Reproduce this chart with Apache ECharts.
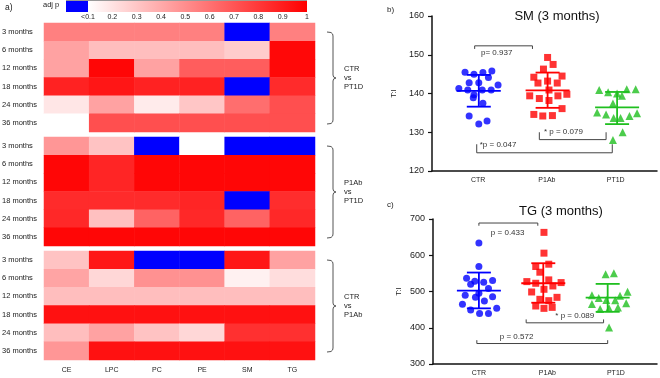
<!DOCTYPE html>
<html>
<head>
<meta charset="utf-8">
<script src="https://cdn.jsdelivr.net/npm/echarts@6/dist/echarts.min.js"></script>
<style>
  html, body { margin: 0; padding: 0; background: #fff; }
  #chart { width: 660px; height: 378px; }
</style>
</head>
<body>
<div id="chart"></div>
<script>
// heatmap of adjusted p values
const lipids = ['CE', 'LPC', 'PC', 'PE', 'SM', 'TG']
const months = ['3 months', '6 months', '12 months', '18 months', '24 months', '36 months']
const comparisons = [['CTR', 'vs', 'PT1D'], ['P1Ab', 'vs', 'PT1D'], ['CTR', 'vs', 'P1Ab']]

const ctrVsPt1d = [
  [0.55, 0.55, 0.55, 0.55, 0.05, 0.55],
  [0.43, 0.33, 0.33, 0.33, 0.28, 0.97],
  [0.43, 0.98, 0.43, 0.67, 0.67, 0.97],
  [0.88, 0.92, 0.88, 0.88, 0.05, 0.85],
  [0.19, 0.43, 0.17, 0.30, 0.61, 0.72],
  [0.10, 0.72, 0.72, 0.72, 0.72, 0.72]
]
const p1abVsPt1d = [
  [0.47, 0.31, 0.05, 0.10, 0.05, 0.05],
  [0.98, 0.87, 0.98, 0.98, 0.98, 0.98],
  [0.98, 0.87, 0.98, 0.98, 0.98, 0.98],
  [0.85, 0.85, 0.85, 0.87, 0.05, 0.84],
  [0.86, 0.32, 0.65, 0.86, 0.65, 0.86],
  [0.98, 0.98, 0.98, 0.98, 0.98, 0.98]
]
const ctrVsP1ab = [
  [0.31, 0.92, 0.05, 0.05, 0.92, 0.43],
  [0.42, 0.24, 0.49, 0.49, 0.15, 0.22],
  [0.33, 0.33, 0.33, 0.33, 0.33, 0.33],
  [0.94, 0.94, 0.94, 0.94, 0.94, 0.94],
  [0.33, 0.43, 0.31, 0.24, 0.83, 0.83],
  [0.47, 0.94, 0.94, 0.94, 0.94, 0.94]
]
const scaleTicks = ['<0.1', '0.2', '0.3', '0.4', '0.5', '0.6', '0.7', '0.8', '0.9', '1']

// dot plots: [x in group units, value]
const groups = ['CTR', 'P1Ab', 'PT1D']

const smCtr = [[0.81, 145.5], [0.94, 145.0], [1.07, 145.4], [1.20, 145.8], [1.15, 144.1], [0.87, 142.8],
  [1.01, 142.8], [1.29, 142.2], [0.72, 141.3], [0.85, 140.9], [1.06, 140.9], [1.19, 140.9],
  [0.94, 139.7], [0.93, 138.9], [1.07, 137.5], [0.87, 134.2], [1.13, 132.9], [1.01, 132.1]]
const smP1ab = [[2.01, 149.3], [2.09, 147.5], [1.95, 146.3], [1.81, 144.2], [2.01, 143.2], [2.22, 144.5],
  [1.87, 142.7], [2.15, 142.7], [1.75, 139.4], [1.89, 138.7], [2.03, 140.9], [2.03, 138.2],
  [2.16, 139.4], [2.29, 139.8], [2.22, 136.1], [1.81, 134.6], [1.94, 134.2], [2.08, 134.3]]
const smPt1d = [[2.76, 140.9], [2.89, 140.3], [3.02, 140.0], [3.09, 139.4], [3.16, 141.1], [3.29, 141.1],
  [2.96, 137.4], [2.73, 135.1], [2.86, 134.6], [2.97, 133.7], [3.07, 133.7], [3.20, 134.2],
  [3.31, 134.9], [3.10, 130.0], [2.96, 128.0]]
const smGroupX = [1.01, 2.01, 3.02]
const smMean = [140.7, 140.8, 136.4]
const smSdLow = [136.6, 136.3, 132.1]
const smSdHigh = [144.8, 145.4, 140.4]
// [x1, x2, y, tick end y, label x, label y]
const smBrackets = [[0.95, 1.79, 152.3, 151.5, 1.27, 150.6], [1.89, 2.86, 128.1, 130.0, 2.24, 130.0],
  [0.98, 2.95, 124.7, 126.9, 1.29, 126.7]]
const smPvalues = ['p= 0.937', '* p = 0.079', '*p = 0.047']

const tgCtr = [[1.00, 633.5], [1.00, 569.0], [0.82, 536.6], [0.94, 528.3], [0.88, 520.0], [1.07, 525.5],
  [1.20, 530.1], [1.14, 508.0], [1.00, 495.0], [0.80, 489.5], [0.95, 484.0], [1.20, 485.8],
  [1.08, 473.8], [0.76, 464.5], [0.88, 448.8], [1.26, 453.5], [1.01, 439.6], [1.14, 439.6]]
const tgP1ab = [[1.95, 663.1], [1.95, 605.8], [1.83, 568.9], [2.02, 575.3], [1.89, 553.2], [1.70, 527.3],
  [1.83, 522.7], [2.02, 532.0], [2.08, 515.3], [2.20, 524.6], [1.77, 498.7], [1.95, 506.1],
  [1.89, 478.4], [2.02, 474.7], [2.14, 483.9], [1.83, 460.0], [1.95, 453.5], [2.07, 456.2]]
const tgPt1d = [[2.85, 547.6], [2.97, 550.4], [2.65, 489.5], [2.75, 482.1], [2.86, 476.5], [2.99, 475.6],
  [3.06, 488.6], [3.17, 499.6], [2.65, 465.5], [2.77, 451.6], [2.90, 453.5], [3.03, 456.2],
  [3.15, 467.3], [2.90, 400.8]]
const tgGroupX = [1.00, 1.94, 2.88]
const tgMean = [502.4, 522.7, 483.0]
const tgSdLow = [453.5, 469.0, 444.0]
const tgSdHigh = [552.3, 578.0, 521.0]
const tgBrackets = [[1.00, 1.86, 688.9, 681.4, 1.42, 661.2], [1.69, 2.82, 413.6, 423.0, 2.40, 432.1],
  [0.97, 2.88, 356.5, 365.7, 1.55, 374.8]]
const tgPvalues = ['p = 0.433', '* p = 0.089', 'p = 0.572']

const font = "'Liberation Sans', Arial, sans-serif"
const groupColors = ['#0000ff', '#ff0000', '#1fbf1f']
const groupSymbols = ['circle', 'rect', 'triangle']
const heatTops = [23, 137, 251]

const chart = echarts.init(document.getElementById('chart'))

function toCells(matrix) {
  const out = []
  matrix.forEach((row, r) => row.forEach((v, c) => out.push([c, r, v])))
  return out
}

// white at 0.1, red at 1 (stops every 0.1 from 0)
const ramp = []
for (let i = 0; i <= 10; i++) {
  const t = i === 0 ? 0 : (i - 1) / 9
  const gb = Math.round(255 * (1 - t))
  ramp.push(`rgb(255,${gb},${gb})`)
}

function statsRows(xs, mean, lo, hi) {
  return xs.map((x, i) => [x, mean[i], lo[i], hi[i], i])
}

function renderErrorBar(params, api) {
  const x = api.value(0)
  const mid = api.coord([x, api.value(1)])
  const lo = api.coord([x, api.value(2)])
  const hi = api.coord([x, api.value(3)])
  const style = { stroke: groupColors[api.value(4)], lineWidth: 1.8 }
  const line = (x1, y1, x2, y2) => ({ type: 'line', shape: { x1, y1, x2, y2 }, style })
  return {
    type: 'group',
    children: [
      line(mid[0] - 22, mid[1], mid[0] + 22, mid[1]),
      line(mid[0], lo[1], mid[0], hi[1]),
      line(mid[0] - 12, lo[1], mid[0] + 12, lo[1]),
      line(mid[0] - 12, hi[1], mid[0] + 12, hi[1])
    ]
  }
}

function bracketRenderer(labels) {
  return function (params, api) {
    const a = api.coord([api.value(0), api.value(2)])
    const b = api.coord([api.value(1), api.value(2)])
    const t = api.coord([api.value(0), api.value(3)])
    const lab = api.coord([api.value(4), api.value(5)])
    return {
      type: 'group',
      children: [
        {
          type: 'polyline',
          shape: { points: [[a[0], t[1]], [a[0], a[1]], [b[0], b[1]], [b[0], t[1]]] },
          style: { stroke: '#444', lineWidth: 1, fill: null }
        },
        {
          type: 'text',
          style: {
            text: labels[params.dataIndex], x: lab[0], y: lab[1],
            align: 'center', verticalAlign: 'middle',
            fill: '#333', fontSize: 8, fontFamily: font
          }
        }
      ]
    }
  }
}

// curly brace "}" as a polyline
function bracePoints(top, bottom) {
  const mid = (top + bottom) / 2
  return [[327, top], [331, top + 0.5], [332.6, top + 2], [333, top + 4], [333, mid - 3],
    [333.6, mid - 1], [336, mid], [333.6, mid + 1], [333, mid + 3], [333, bottom - 4],
    [332.6, bottom - 2], [331, bottom - 0.5], [327, bottom]]
}

const valueYAxis = (grid, min, max, interval, nameGap) => ({
  type: 'value', gridIndex: grid, min, max, interval,
  name: 'T:I', nameLocation: 'middle', nameGap,
  nameTextStyle: { fontSize: 8, fontFamily: font, color: '#222' },
  axisLine: { show: true, lineStyle: { color: '#111', width: 1.5 } },
  axisTick: { show: true, length: 4, lineStyle: { color: '#111', width: 1.2 } },
  splitLine: { show: false },
  axisLabel: { fontSize: 9, fontFamily: font, color: '#222', margin: 8 }
})

const groupXAxis = grid => ({
  type: 'value', gridIndex: grid, min: 0.33, max: 3.6,
  axisLine: { show: true, onZero: false, lineStyle: { color: '#111', width: 1.5 } },
  axisTick: { show: false },
  splitLine: { show: false },
  axisLabel: {
    customValues: [1, 2, 3],
    formatter: v => groups[Math.round(v) - 1],
    fontSize: 7, fontFamily: font, color: '#222', margin: 6
  }
})

const scatterSeries = (sets, axis) => sets.map((d, i) => ({
  type: 'scatter', xAxisIndex: axis, yAxisIndex: axis,
  symbol: groupSymbols[i], symbolSize: i === 2 ? 8 : 7,
  itemStyle: { color: groupColors[i] },
  data: d, z: 3
}))

const textStyle = (text, size, extra) => Object.assign(
  { text, fontSize: size, fontFamily: font, fill: '#222', verticalAlign: 'middle' }, extra || {})

const option = {
  animation: false,
  backgroundColor: '#fff',
  grid: [
    ...heatTops.map(t => ({ left: 44, top: t, width: 271, height: 109, outerBoundsMode: 'none' })),
    { left: 432, top: 16, width: 225, height: 155, outerBoundsMode: 'none' },
    { left: 433, top: 219, width: 224, height: 145, outerBoundsMode: 'none' },
    { left: 88, top: 1, width: 219, height: 11, outerBoundsMode: 'none' }
  ],
  xAxis: [
    ...heatTops.map((t, i) => ({
      type: 'category', gridIndex: i, data: lipids,
      axisLine: { show: false }, axisTick: { show: false },
      axisLabel: { show: i === 2, fontSize: 7, fontFamily: font, color: '#222', margin: 7 }
    })),
    groupXAxis(3),
    groupXAxis(4),
    {
      type: 'value', gridIndex: 5, min: 0.1, max: 1, interval: 0.1,
      axisLine: { show: false }, axisTick: { show: false }, splitLine: { show: false },
      axisLabel: {
        formatter: v => scaleTicks[Math.round(v * 10) - 1],
        fontSize: 7, fontFamily: font, color: '#222', margin: 2
      }
    }
  ],
  yAxis: [
    ...heatTops.map((t, i) => ({
      type: 'category', gridIndex: i, data: months, inverse: true,
      axisLine: { show: false }, axisTick: { show: false },
      axisLabel: { align: 'left', margin: 42, fontSize: 7.5, fontFamily: font, color: '#222' }
    })),
    valueYAxis(3, 120, 160, 10, 34),
    valueYAxis(4, 300, 700, 100, 30),
    { type: 'category', gridIndex: 5, data: [''], show: false }
  ],
  visualMap: {
    type: 'continuous', show: false, seriesIndex: [0, 1, 2],
    min: 0, max: 1, range: [0.1, 1],
    inRange: { color: ramp },
    outOfRange: { color: '#0000ff' }
  },
  graphic: [
    { type: 'text', x: 5, y: 8, style: textStyle('a)', 8.5) },
    { type: 'text', x: 43, y: 5, style: textStyle('adj p', 7.5) },
    { type: 'rect', shape: { x: 66, y: 1, width: 22, height: 11 }, style: { fill: '#0000ff' } },
    {
      type: 'rect', shape: { x: 88, y: 1, width: 219, height: 11 },
      style: {
        fill: { type: 'linear', x: 0, y: 0, x2: 1, y2: 0, colorStops: [{ offset: 0, color: '#fff' }, { offset: 1, color: '#f00' }] }
      }
    },
    { type: 'line', shape: { x1: 66, y1: 0.5, x2: 307, y2: 0.5 }, style: { stroke: '#999', lineWidth: 1 } },
    ...heatTops.map(t => ({
      type: 'polyline', shape: { points: bracePoints(t + 9, t + 101) },
      style: { stroke: '#555', lineWidth: 1, fill: null }
    })),
    ...comparisons.map((c, i) => ({
      type: 'text', x: 344, y: heatTops[i] + 55,
      style: textStyle(c.join('\n'), 7.5, { lineHeight: 9 })
    })),
    { type: 'text', x: 387, y: 10, style: textStyle('b)', 8) },
    { type: 'text', x: 387, y: 205, style: textStyle('c)', 8) },
    { type: 'text', x: 557, y: 16, style: textStyle('SM (3 months)', 13, { fill: '#111', align: 'center' }) },
    { type: 'text', x: 561, y: 211, style: textStyle('TG (3 months)', 13, { fill: '#111', align: 'center' }) }
  ],
  series: [
    ...[ctrVsPt1d, p1abVsPt1d, ctrVsP1ab].map((m, i) => ({
      type: 'heatmap', xAxisIndex: i, yAxisIndex: i,
      data: toCells(m),
      itemStyle: { borderWidth: 0 },
      emphasis: { disabled: true }
    })),
    ...scatterSeries([smCtr, smP1ab, smPt1d], 3),
    ...scatterSeries([tgCtr, tgP1ab, tgPt1d], 4),
    {
      type: 'custom', xAxisIndex: 3, yAxisIndex: 3, z: 5,
      renderItem: renderErrorBar,
      data: statsRows(smGroupX, smMean, smSdLow, smSdHigh)
    },
    {
      type: 'custom', xAxisIndex: 4, yAxisIndex: 4, z: 5,
      renderItem: renderErrorBar,
      data: statsRows(tgGroupX, tgMean, tgSdLow, tgSdHigh)
    },
    {
      type: 'custom', xAxisIndex: 3, yAxisIndex: 3, z: 4,
      renderItem: bracketRenderer(smPvalues),
      data: smBrackets
    },
    {
      type: 'custom', xAxisIndex: 4, yAxisIndex: 4, z: 4,
      renderItem: bracketRenderer(tgPvalues),
      data: tgBrackets
    }
  ]
}

chart.setOption(option)
</script>
</body>
</html>
